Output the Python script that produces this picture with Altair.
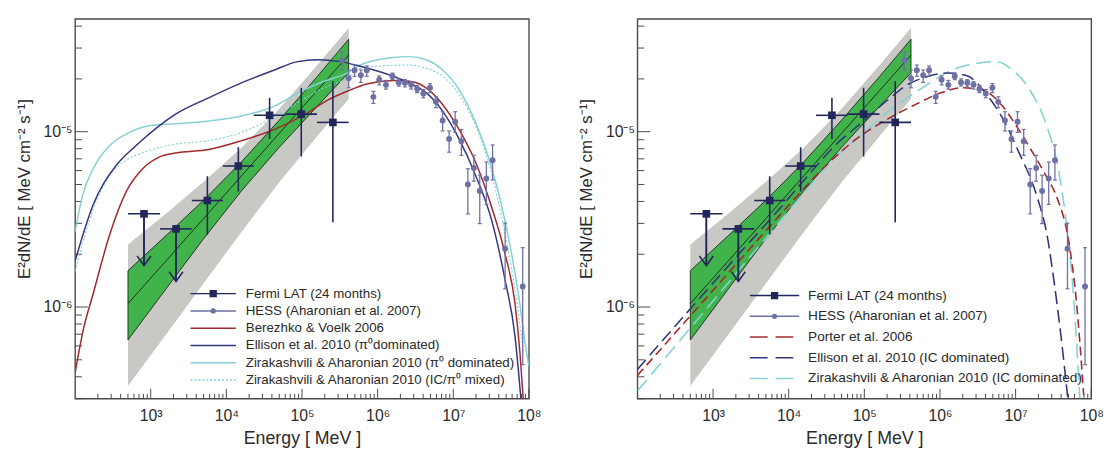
import altair as alt
import pandas as pd

FONT = "Liberation Sans"
X_DOMAIN = [100, 1e8]
Y_DOMAIN = [3.0e-7, 4.4e-5]
W, H = 460, 385

# ---------------- data ----------------
# Fermi LAT (24 months)
fermi_e = [815, 2160, 5610, 14400, 37300, 97800, 256000]
fermi_elo = [500, 1330, 3500, 9000, 23000, 60500, 158000]
fermi_ehi = [1330, 3500, 9000, 23000, 60500, 158000, 414000]
fermi_f = [3.40e-6, 2.79e-6, 4.05e-6, 6.37e-6, 1.24e-5, 1.26e-5, 1.13e-5]
fermi_lo = [1.72e-6, 1.40e-6, 2.59e-6, 4.55e-6, 9.08e-6, 7.22e-6, 3.04e-6]
fermi_hi = [3.40e-6, 2.79e-6, 5.57e-6, 8.16e-6, 1.56e-5, 1.78e-5, 1.94e-5]
fermi_ul = [True, True, False, False, False, False, False]

# HESS (Aharonian et al. 2007)
hess_e = [3.38e5, 4.14e5, 4.95e5, 6.00e5, 7.18e5, 8.79e5, 1.05e6, 1.29e6, 1.57e6,
          1.90e6, 2.30e6, 2.78e6, 3.33e6, 4.03e6, 4.93e6, 5.90e6, 7.23e6, 8.81e6,
          1.06e7, 1.28e7, 1.56e7, 1.87e7, 2.24e7, 2.74e7, 3.31e7, 4.85e7, 8.28e7]
hess_f = [2.55e-5, 2.02e-5, 2.24e-5, 2.10e-5, 2.24e-5, 1.58e-5, 1.98e-5, 1.85e-5, 2.07e-5,
          1.91e-5, 1.90e-5, 1.85e-5, 1.75e-5, 1.65e-5, 1.78e-5, 1.48e-5, 1.16e-5, 9.09e-6,
          1.14e-5, 8.81e-6, 5.00e-6, 6.21e-6, 4.59e-6, 5.41e-6, 6.87e-6, 2.15e-6, 1.31e-6]
hess_hi = [2.86e-5, 2.25e-5, 2.40e-5, 2.25e-5, 2.37e-5, 1.70e-5, 2.08e-5, 1.96e-5, 2.16e-5,
           2.00e-5, 1.98e-5, 1.93e-5, 1.83e-5, 1.74e-5, 1.88e-5, 1.58e-5, 1.30e-5, 1.01e-5,
           1.30e-5, 1.03e-5, 6.15e-6, 7.33e-6, 5.65e-6, 6.71e-6, 8.40e-6, 3.01e-6, 2.18e-6]
hess_lo = [2.25e-5, 1.78e-5, 2.07e-5, 1.91e-5, 2.07e-5, 1.45e-5, 1.85e-5, 1.75e-5, 1.98e-5,
           1.82e-5, 1.80e-5, 1.75e-5, 1.67e-5, 1.56e-5, 1.67e-5, 1.37e-5, 1.01e-5, 7.64e-6,
           9.91e-6, 7.33e-6, 3.40e-6, 5.22e-6, 2.99e-6, 3.85e-6, 5.30e-6, 1.27e-6, 4.69e-7]

# Fermi best-fit band (statistical = green, systematic = grey)
band_e = [500, 1585, 5012, 15850, 50120, 158500, 414000]
band_c = [1.045e-6, 1.828e-6, 3.20e-6, 5.60e-6, 9.79e-6, 1.714e-5, 2.735e-5]
green_hi = [1.61e-6, 2.55e-6, 4.07e-6, 6.73e-6, 1.164e-5, 2.06e-5, 3.37e-5]
green_lo = [6.49e-7, 1.265e-6, 2.455e-6, 4.60e-6, 8.15e-6, 1.393e-5, 2.17e-5]
grey_hi = [2.275e-6, 3.40e-6, 5.19e-6, 8.09e-6, 1.352e-5, 2.39e-5, 3.90e-5]
grey_lo = [3.54e-7, 6.95e-7, 1.365e-6, 2.68e-6, 5.14e-6, 9.42e-6, 1.538e-5]

# Left panel models (log10 E [MeV], E^2 dN/dE)
bv_loge = [2.0, 2.108, 2.239, 2.458, 2.676, 2.893, 3.111, 3.329, 3.765, 4.2, 4.637, 5.072,
           5.333, 5.595, 5.856, 6.205, 6.422, 6.641, 6.859, 7.076, 7.294, 7.512, 7.686,
           7.817, 7.882, 7.93]
bv_f = [4.2e-7, 7.4e-7, 1.19e-6, 2.59e-6, 4.55e-6, 6.15e-6, 7.16e-6, 7.55e-6, 7.92e-6,
        8.89e-6, 1.03e-5, 1.28e-5, 1.51e-5, 1.70e-5, 1.87e-5, 1.96e-5, 1.94e-5, 1.78e-5,
        1.43e-5, 1.03e-5, 6.71e-6, 3.66e-6, 2.00e-6, 1.04e-6, 5.45e-7, 2.8e-7]

ell_pi_loge = [2.0, 2.239, 2.545, 2.807, 3.111, 3.329, 3.765, 4.2, 4.637, 4.941, 5.203,
               5.507, 5.769, 6.205, 6.467, 6.641, 6.859, 7.076, 7.294, 7.512, 7.686,
               7.817, 7.90]
ell_pi_f = [1.83e-6, 3.83e-6, 6.43e-6, 8.34e-6, 1.08e-5, 1.26e-5, 1.56e-5, 1.90e-5, 2.25e-5,
            2.51e-5, 2.57e-5, 2.51e-5, 2.36e-5, 2.07e-5, 1.85e-5, 1.67e-5, 1.31e-5, 9.09e-6,
            5.65e-6, 3.08e-6, 1.42e-6, 6.78e-7, 2.8e-7]

za_pi_loge = [2.0, 2.1, 2.239, 2.458, 2.676, 2.98, 3.329, 3.765, 4.2, 4.637, 4.984, 5.29,
              5.595, 5.769, 6.205, 6.422, 6.641, 6.859, 7.076, 7.294, 7.512, 7.686, 7.861,
              7.97, 8.0]
za_pi_f = [2.70e-6, 4.35e-6, 6.15e-6, 8.34e-6, 9.69e-6, 1.08e-5, 1.11e-5, 1.15e-5, 1.23e-5,
           1.40e-5, 1.70e-5, 1.94e-5, 2.16e-5, 2.40e-5, 2.65e-5, 2.68e-5, 2.57e-5, 2.25e-5,
           1.74e-5, 1.13e-5, 6.15e-6, 3.08e-6, 1.19e-6, 5.45e-7, 4.6e-7]

za_mix_loge = [2.0, 2.239, 2.458, 2.676, 2.98, 3.329, 3.765, 4.2, 4.637, 4.984, 5.29, 5.595,
               5.769, 6.205, 6.422, 6.641, 6.859, 7.076, 7.294, 7.512, 7.686, 7.845, 7.93]
za_mix_f = [1.6e-6, 3.6e-6, 5.65e-6, 6.87e-6, 7.81e-6, 8.51e-6, 8.89e-6, 9.91e-6, 1.22e-5,
            1.50e-5, 1.78e-5, 2.02e-5, 2.30e-5, 2.39e-5, 2.40e-5, 2.30e-5, 2.07e-5, 1.63e-5,
            1.08e-5, 5.65e-6, 2.59e-6, 1.04e-6, 5.45e-7]

# Right panel models
por_loge = [2.0, 2.7, 3.4, 4.0, 4.5, 4.9, 5.3, 5.7, 6.0, 6.3, 6.55, 6.8, 7.0, 7.2, 7.4,
            7.55, 7.7, 7.8, 7.9]
por_f = [4.07e-7, 8.91e-7, 1.95e-6, 3.80e-6, 6.46e-6, 9.12e-6, 1.175e-5, 1.445e-5, 1.66e-5,
         1.78e-5, 1.74e-5, 1.445e-5, 1.096e-5, 7.94e-6, 5.62e-6, 4.17e-6, 2.40e-6, 1.12e-6,
         3.16e-7]

ell_ic_loge = [2.0, 2.7, 3.4, 3.9, 4.176, 4.637, 4.962, 5.332, 5.563, 5.795, 6.119, 6.35,
               6.628, 6.86, 7.045, 7.276, 7.42, 7.507, 7.6, 7.69]
ell_ic_f = [4.41e-7, 9.77e-7, 2.14e-6, 3.72e-6, 5.13e-6, 8.53e-6, 1.125e-5, 1.545e-5,
            1.845e-5, 2.04e-5, 2.16e-5, 2.09e-5, 1.61e-5, 1.125e-5, 7.59e-6, 4.36e-6,
            2.51e-6, 1.41e-6, 6.82e-7, 3.02e-7]

za_ic_loge = [2.0, 2.7, 3.4, 3.944, 4.176, 4.637, 4.962, 5.332, 5.795, 6.119, 6.5, 6.75,
              6.95, 7.184, 7.415, 7.55, 7.65, 7.75, 7.85]
za_ic_f = [3.32e-7, 7.59e-7, 1.74e-6, 3.31e-6, 4.36e-6, 7.28e-6, 9.62e-6, 1.318e-5, 1.81e-5,
           2.21e-5, 2.455e-5, 2.51e-5, 2.265e-5, 1.74e-5, 1.07e-5, 6.61e-6, 3.55e-6,
           1.41e-6, 3.02e-7]

# axis ticks
x_major = [1e3, 1e4, 1e5, 1e6, 1e7, 1e8]
x_minor = [k * 10 ** n for n in range(2, 8) for k in range(2, 10)]
y_major = [1e-6, 1e-5]
y_minor = [k * 10.0 ** n for n in (-7, -6, -5) for k in range(2, 10)
           if Y_DOMAIN[0] <= k * 10.0 ** n <= Y_DOMAIN[1]]
x_labels = {3: "10³", 4: "10⁴", 5: "10⁵", 6: "10⁶", 7: "10⁷", 8: "10⁸"}
y_labels = {-6: "10⁻⁶", -5: "10⁻⁵"}

# ---------------- styling ----------------
NAVY = "#33367c"
FERMI = "#23265a"
HESS = "#6e70a5"
RED = "#a2282c"
CYAN = "#86d1d6"
GREEN = "#40b34a"
GREY = "#c8c8c4"
FRAME = "#4a4a4a"
TXT = "#2a2a2a"


def label_expr(mapping):
    expr = "''"
    for k, v in mapping.items():
        expr = f"round(log(datum.value)/LN10) == {k} ? '{v}' : " + expr
    return expr


X_AXIS = alt.Axis(values=x_major, labelExpr=label_expr(x_labels), ticks=False, domain=False,
                  grid=False, labelFontSize=16, labelFont=FONT, labelColor=TXT, labelPadding=9,
                  title="Energy [ MeV ]", titleFont=FONT, titleFontSize=18,
                  titleFontWeight="normal", titleColor=TXT, titlePadding=6,
                  labelFlush=False, labelOverlap=False)
Y_AXIS = alt.Axis(values=y_major, labelExpr=label_expr(y_labels), ticks=False, domain=False,
                  grid=False, labelFontSize=16, labelFont=FONT, labelColor=TXT, labelPadding=3,
                  title="E²dN/dE [ MeV cm⁻² s⁻¹]", titleFont=FONT, titleFontSize=17,
                  titleFontWeight="normal", titleColor=TXT, titlePadding=10, titleY=172,
                  labelFlush=False, labelOverlap=False)


def X(field):
    return alt.X(f"{field}:Q", scale=alt.Scale(type="log", domain=X_DOMAIN), axis=X_AXIS)


def Y(field):
    return alt.Y(f"{field}:Q", scale=alt.Scale(type="log", domain=Y_DOMAIN), axis=Y_AXIS)


fermi_df = pd.DataFrame({"E": fermi_e, "elo": fermi_elo, "ehi": fermi_ehi, "F": fermi_f,
                         "lo": fermi_lo, "hi": fermi_hi, "ul": fermi_ul})
hess_df = pd.DataFrame({"E": hess_e, "F": hess_f, "lo": hess_lo, "hi": hess_hi})
band_df = pd.DataFrame({"E": band_e, "c": band_c, "gh": green_hi, "gl": green_lo,
                        "sh": grey_hi, "sl": grey_lo})


def curve(loge, f, color, dash=None, width=1.5):
    df = pd.DataFrame({"E": [10 ** v for v in loge], "F": f})
    kw = dict(color=color, strokeWidth=width, clip=True, interpolate="monotone")
    if dash:
        kw["strokeDash"] = dash
    return alt.Chart(df).mark_line(**kw).encode(x=X("E"), y=Y("F"))


def ticks_layers():
    out = []
    out.append(alt.Chart(pd.DataFrame({"v": x_major})).mark_rule(color=FRAME, strokeWidth=1)
               .encode(x=X("v"), y=alt.value(H), y2=alt.value(H - 10)))
    out.append(alt.Chart(pd.DataFrame({"v": x_minor})).mark_rule(color=FRAME, strokeWidth=1)
               .encode(x=X("v"), y=alt.value(H), y2=alt.value(H - 5)))
    out.append(alt.Chart(pd.DataFrame({"v": y_major})).mark_rule(color=FRAME, strokeWidth=1)
               .encode(y=Y("v"), x=alt.value(0), x2=alt.value(13)))
    out.append(alt.Chart(pd.DataFrame({"v": y_minor})).mark_rule(color=FRAME, strokeWidth=1)
               .encode(y=Y("v"), x=alt.value(0), x2=alt.value(7)))
    return out


def band_layers():
    b = alt.Chart(band_df)
    out = [
        b.mark_area(color=GREY, opacity=1).encode(x=X("E"), y=Y("sh"), y2="sl"),
        b.mark_area(color=GREEN, opacity=1).encode(x=X("E"), y=Y("gh"), y2="gl"),
        b.mark_line(color="#111111", strokeWidth=0.8).encode(x=X("E"), y=Y("gh")),
        b.mark_line(color="#111111", strokeWidth=0.8).encode(x=X("E"), y=Y("gl")),
        b.mark_line(color="#111111", strokeWidth=0.8).encode(x=X("E"), y=Y("c")),
        b.transform_filter("datum.E < 600 || datum.E > 400000")
         .mark_rule(color="#111111", strokeWidth=0.8).encode(x=X("E"), y=Y("gl"), y2="gh"),
    ]
    return out


def data_layers():
    fb = alt.Chart(fermi_df)
    hb = alt.Chart(hess_df)
    cap = "M -1 0 L 1 0"
    head = "M -1 -1.4 L 0 0 L 1 -1.4"
    out = [
        hb.mark_rule(color=HESS, strokeWidth=1.3).encode(x=X("E"), y=Y("lo"), y2="hi"),
        hb.mark_point(shape=cap, filled=False, size=16, color=HESS, opacity=1, strokeWidth=1.2)
          .encode(x=X("E"), y=Y("lo")),
        hb.mark_point(shape=cap, filled=False, size=16, color=HESS, opacity=1, strokeWidth=1.2)
          .encode(x=X("E"), y=Y("hi")),
        hb.mark_circle(color=HESS, size=36, opacity=1).encode(x=X("E"), y=Y("F")),
        fb.mark_rule(color=FERMI, strokeWidth=1.6).encode(x=X("elo"), x2="ehi", y=Y("F")),
        fb.mark_rule(color=FERMI, strokeWidth=1.6).encode(x=X("E"), y=Y("lo"), y2="hi"),
        fb.transform_filter("datum.ul").mark_rule(color=FERMI, strokeWidth=1.6)
          .encode(x=X("E"), y=Y("lo"), y2="F"),
        fb.transform_filter("datum.ul")
          .mark_point(shape=head, filled=False, size=196, color=FERMI, opacity=1, strokeWidth=1.5)
          .encode(x=X("E"), y=Y("lo")),
        fb.mark_point(shape="square", filled=True, size=60, color=FERMI, opacity=1)
          .encode(x=X("E"), y=Y("F")),
    ]
    return out


def legend_layers(entries, x0, x1, xt, y0, dy, fs):
    out = []
    for i, (label, color, dash, marker, msize, mcolor) in enumerate(entries):
        y = y0 + i * dy
        d = alt.Chart(pd.DataFrame({"t": [label]}))
        kw = dict(color=color, strokeWidth=1.5)
        if dash:
            kw["strokeDash"] = dash
        out.append(d.mark_rule(**kw).encode(x=alt.value(x0), x2=alt.value(x1), y=alt.value(y)))
        if marker:
            out.append(d.mark_point(shape=marker, filled=True, size=msize, color=mcolor, opacity=1)
                       .encode(x=alt.value((x0 + x1) / 2), y=alt.value(y)))
        out.append(d.mark_text(align="left", baseline="middle", fontSize=fs, font=FONT, color=TXT)
                   .encode(x=alt.value(xt), y=alt.value(y), text="t:N"))
    return out


left_models = [
    curve(za_mix_loge, za_mix_f, CYAN, dash=[2, 2], width=1.2),
    curve(za_pi_loge, za_pi_f, CYAN, width=1.5),
    curve(bv_loge, bv_f, RED, width=1.5),
    curve(ell_pi_loge, ell_pi_f, NAVY, width=1.5),
]
right_models = [
    curve(za_ic_loge, za_ic_f, CYAN, dash=[15, 7], width=1.6),
    curve(por_loge, por_f, RED, dash=[9, 5], width=1.6),
    curve(ell_ic_loge, ell_ic_f, NAVY, dash=[13, 6], width=1.6),
]

left_legend = legend_layers([
    ("Fermi LAT (24 months)", FERMI, None, "square", 55, FERMI),
    ("HESS (Aharonian et al. 2007)", HESS, None, "circle", 28, HESS),
    ("Berezhko & Voelk 2006", RED, None, None, 0, None),
    ("Ellison et al. 2010 (π⁰dominated)", NAVY, None, None, 0, None),
    ("Zirakashvili & Aharonian 2010 (π⁰ dominated)", CYAN, None, None, 0, None),
    ("Zirakashvili & Aharonian 2010 (IC/π⁰ mixed)", CYAN, [2, 2], None, 0, None),
], 117, 163, 173, 278.5, 17.5, 13.5)

right_legend = legend_layers([
    ("Fermi LAT (24 months)", FERMI, None, "square", 55, FERMI),
    ("HESS (Aharonian et al. 2007)", HESS, None, "circle", 28, HESS),
    ("Porter et al. 2006", RED, [18, 8], None, 0, None),
    ("Ellison et al. 2010 (IC dominated)", NAVY, [18, 8], None, 0, None),
    ("Zirakashvili & Aharonian 2010 (IC dominated)", CYAN, [18, 8], None, 0, None),
], 114, 164, 173, 280.5, 21, 13.8)

left = alt.layer(*(ticks_layers() + band_layers() + left_models + data_layers() + left_legend)
                 ).properties(width=W, height=H)
right = alt.layer(*(ticks_layers() + band_layers() + right_models + data_layers() + right_legend)
                  ).properties(width=W, height=H)

chart = (alt.hconcat(left, right, spacing=35)
         .properties(padding={"left": 6, "top": 7, "right": 5, "bottom": 0})
         .configure(font=FONT)
         .configure_view(stroke=FRAME, strokeWidth=1.4))

chart.save("out.html", embed_options={"renderer": "svg", "actions": False})
